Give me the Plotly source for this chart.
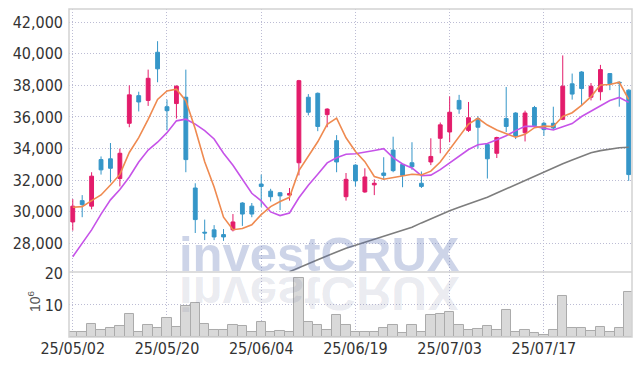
import plotly.graph_objects as go

# ---------------- data ----------------
dates = [
    "25/05/02", "25/05/07", "25/05/08", "25/05/09", "25/05/12", "25/05/13", "25/05/14", "25/05/15", "25/05/16", "25/05/19",
    "25/05/20", "25/05/21", "25/05/22", "25/05/23", "25/05/26", "25/05/27", "25/05/28", "25/05/29", "25/05/30", "25/06/02",
    "25/06/04", "25/06/05", "25/06/09", "25/06/10", "25/06/11", "25/06/12", "25/06/13", "25/06/16", "25/06/17", "25/06/18",
    "25/06/19", "25/06/20", "25/06/23", "25/06/24", "25/06/25", "25/06/26", "25/06/27", "25/06/30", "25/07/01", "25/07/02",
    "25/07/03", "25/07/04", "25/07/07", "25/07/08", "25/07/09", "25/07/10", "25/07/11", "25/07/14", "25/07/15", "25/07/16",
    "25/07/17", "25/07/18", "25/07/21", "25/07/22", "25/07/23", "25/07/24", "25/07/25", "25/07/28", "25/07/29", "25/07/30",
]

open_ = [
    29350, 30700, 30350, 33300, 33350, 32100, 35600, 37350, 37050, 40100,
    36650, 36850, 37250, 31500, 28700, 28850, 28550, 28850, 30550, 30350,
    31750, 31300, 31200, 31050, 33100, 37250, 37500, 36150, 34500, 30950,
    32950, 31250, 31700, 32450, 33900, 33000, 33100, 31800, 33150, 34650,
    35050, 37050, 35150, 35900, 34250, 33700, 35900, 36250, 35000, 36600,
    35600, 35600, 35850, 38100, 38850, 37250, 37600, 38750, 38200, 37700,
]
high = [
    30800, 31050, 32500, 33500, 34350, 34000, 38000, 37600, 39000, 40800,
    37100, 38000, 39000, 31800, 29500, 29150, 28900, 29850, 30600, 30550,
    32350, 31450, 31250, 31500, 38350, 37450, 37550, 36550, 34850, 32450,
    33000, 32750, 32050, 33450, 34750, 33000, 34400, 32550, 34650, 35650,
    37300, 37400, 36950, 36050, 34250, 34750, 37900, 36300, 36400, 36700,
    35700, 36650, 39900, 38750, 38900, 38150, 39300, 38750, 38250, 37750,
]
low = [
    28800, 29650, 30150, 32350, 31850, 31600, 35350, 36350, 36700, 38200,
    35150, 35900, 32500, 28650, 28200, 28200, 28150, 28750, 29100, 29650,
    30300, 30650, 30100, 30700, 32300, 36100, 35100, 35350, 32500, 30700,
    31600, 31200, 31050, 32000, 32500, 31550, 32650, 31500, 32950, 33700,
    34400, 36200, 35050, 34000, 32100, 33400, 35050, 34600, 34450, 35400,
    34800, 35200, 35800, 37100, 36700, 37050, 37050, 37700, 36650, 31950,
]
close = [
    30350, 30450, 32250, 32650, 32750, 33700, 37400, 36950, 38450, 39050,
    36400, 37950, 33300, 29500, 28650, 28400, 28400, 29350, 29850, 29850,
    31600, 30950, 31000, 31150, 38300, 36300, 35400, 36500, 33150, 32050,
    31950, 32200, 31800, 32300, 32600, 32300, 32850, 31600, 33500, 35500,
    36300, 36500, 35950, 35350, 33350, 34700, 35400, 34800, 36250, 35450,
    35200, 35300, 37950, 37450, 37800, 37950, 39000, 38100, 38150, 32350,
]
# volume in units of 10^6 shares
volume = [
    1.6, 1.6, 4.1, 2.2, 2.9, 3.3, 7.2, 1.6, 3.6, 2.9,
    6.0, 3.0, 9.8, 10.6, 4.2, 2.2, 2.2, 3.6, 3.3, 1.6,
    4.7, 1.6, 1.9, 1.6, 18.4, 4.7, 3.6, 2.2, 6.9, 3.6,
    1.6, 1.6, 1.6, 2.9, 3.9, 1.3, 3.8, 1.6, 6.9, 7.3,
    7.85, 3.9, 2.2, 2.55, 3.5, 2.2, 8.5, 1.6, 2.2, 1.3,
    0.7, 2.2, 12.8, 2.9, 2.9, 1.9, 3.2, 1.6, 2.9, 14.1,
]
# moving averages (5, 10 and 60 day) as drawn on the chart
ma5 = [
    30280, 30320, 30700, 31060, 31690, 32360, 33750, 34690, 35850, 37110,
    37650, 37760, 37030, 35240, 33160, 31560, 29650, 28860, 28930, 29170,
    29810, 30320, 30650, 30910, 32600, 33540, 34430, 35530, 35930, 34680,
    33810, 33170, 32230, 32060, 32170, 32240, 32370, 32330, 32570, 33150,
    33950, 34680, 35550, 35920, 35490, 35170, 34950, 34720, 34900, 35320,
    35420, 35400, 36030, 36270, 36740, 37290, 38030, 38060, 38200, 37110,
]
ma10 = [
    27150, 28000, 28850, 29850, 30750, 31400, 32200, 33150, 33900, 34400,
    35005, 35755, 35860, 35545, 35135, 34605, 33705, 32945, 32085, 31165,
    30685, 29985, 29755, 29920, 30885, 31675, 32375, 33090, 33420, 33640,
    33675, 33800, 33880, 33995, 33425, 33025, 32770, 32280, 32315, 32660,
    33095, 33525, 33940, 34245, 34320, 34560, 34815, 35135, 35410, 35405,
    35295, 35175, 35375, 35585, 36030, 36355, 36715, 37045, 37235, 36925,
]
ma60 = [None] * 23 + [
    26200, 26430, 26700, 26960, 27220, 27450, 27680,
    27890, 28080, 28260, 28440, 28620, 28810, 29010, 29290, 29560, 29820,
    30060, 30280, 30490, 30700, 30910, 31180, 31450, 31730, 32000, 32270,
    32540, 32790, 33030, 33270, 33510, 33740, 33870, 33970, 34050, 34080,
]

price_ticks = [28000, 30000, 32000, 34000, 36000, 38000, 40000, 42000]
volume_ticks = [10, 20]
date_ticks = [dates[0], dates[10], dates[20], dates[30], dates[40], dates[50]]

# ---------------- styling ----------------
PINK = "#e31c6b"
BLUE = "#3596c8"
ORANGE = "#ef8a50"
PURPLE = "#c653e8"
GRAY = "#7d7d7d"
GRID = "#bcbcd4"
FRAME = "#d2d2d2"
TICK_FONT = dict(family="Liberation Sans Narrow, DejaVu Sans Condensed, Liberation Sans, sans-serif",
                 size=16, color="#333333")

fig = go.Figure()

fig.add_trace(go.Bar(
    x=dates, y=volume, yaxis="y2", xaxis="x",
    marker=dict(color="#d9d9d9", line=dict(color="#ababab", width=1)),
    showlegend=False, hoverinfo="skip",
))

fig.add_trace(go.Candlestick(
    x=dates, open=open_, high=high, low=low, close=close,
    increasing=dict(line=dict(color=PINK, width=1), fillcolor=PINK),
    decreasing=dict(line=dict(color=BLUE, width=1), fillcolor=BLUE),
    whiskerwidth=0, showlegend=False,
))

fig.add_trace(go.Scatter(x=dates, y=ma60, mode="lines",
                         line=dict(color=GRAY, width=1.6), showlegend=False, hoverinfo="skip"))
fig.add_trace(go.Scatter(x=dates, y=ma10, mode="lines",
                         line=dict(color=PURPLE, width=1.6), showlegend=False, hoverinfo="skip"))
fig.add_trace(go.Scatter(x=dates, y=ma5, mode="lines",
                         line=dict(color=ORANGE, width=1.6), showlegend=False, hoverinfo="skip"))

split = 0.1982

fig.update_layout(
    width=642, height=366,
    margin=dict(l=69, r=10, t=9, b=29, autoexpand=False),
    plot_bgcolor="white", paper_bgcolor="white",
    showlegend=False,
    bargap=0, boxgap=0.42,
    xaxis=dict(
        type="category", categoryorder="array", categoryarray=dates,
        range=[-0.4, 59.35], anchor="y2", automargin=False,
        tickmode="array", tickvals=date_ticks, ticktext=date_ticks,
        showgrid=True, gridcolor=GRID, griddash="1px,2px", gridwidth=1,
        zeroline=False, showline=False, ticks="",
        tickfont=TICK_FONT,
        rangeslider=dict(visible=False),
    ),
    yaxis=dict(
        domain=[split, 1], range=[26180, 42840], automargin=False,
        tickmode="array", tickvals=price_ticks, tickformat=",",
        showgrid=True, gridcolor=GRID, griddash="1px,2px", gridwidth=1,
        zeroline=False, showline=False, ticks="", ticklabelstandoff=5,
        tickfont=TICK_FONT,
    ),
    yaxis2=dict(
        domain=[0, split], range=[0, 20.3], automargin=False,
        tickmode="array", tickvals=volume_ticks,
        showgrid=True, gridcolor=GRID, griddash="1px,2px", gridwidth=1,
        zeroline=False, showline=False, ticks="", ticklabelstandoff=5,
        tickfont=TICK_FONT,
    ),
    shapes=[
        dict(type="rect", xref="paper", yref="paper", x0=0, x1=1, y0=0, y1=1,
             line=dict(color=FRAME, width=1.5), fillcolor="rgba(0,0,0,0)", layer="above"),
        dict(type="line", xref="paper", yref="paper", x0=0, x1=1, y0=split, y1=split,
             line=dict(color=FRAME, width=1.5), layer="above"),
    ],
    annotations=[
        dict(text="<b>investCRUX</b>", xref="paper", yref="paper", x=0.445, y=0.254,
             xanchor="center", yanchor="middle", showarrow=False,
             font=dict(family="Liberation Sans, Arial, sans-serif", size=49,
                       color="rgba(88,112,178,0.30)")),
        dict(text="<b>investCRUX</b>", xref="paper", yref="paper", x=0.445, y=0.132,
             xanchor="center", yanchor="middle", showarrow=False,
             font=dict(family="Liberation Sans, Arial, sans-serif", size=49,
                       color="rgba(100,110,150,0.15)")),
        dict(text="10<sup>6</sup>", xref="paper", yref="paper", x=-0.063, y=0.108,
             xanchor="center", yanchor="middle", showarrow=False, textangle=-90,
             font=dict(family="Liberation Sans Narrow, Liberation Sans, sans-serif",
                       size=14, color="#555555")),
    ],
)

post = """
document.body.style.margin = '0';
var gd = document.getElementById('{plot_id}');
function flipReflection() {
  var els = gd.querySelectorAll('g.annotation[data-index="1"] text.annotation-text');
  els.forEach(function (t) {
    t.style.transformBox = 'fill-box';
    t.style.transformOrigin = 'center';
    t.style.transform = 'scaleY(-1)';
  });
}
flipReflection();
if (gd.on) { gd.on('plotly_afterplot', flipReflection); }
"""

fig.write_html("out.html", post_script=post, config={"displayModeBar": False})
